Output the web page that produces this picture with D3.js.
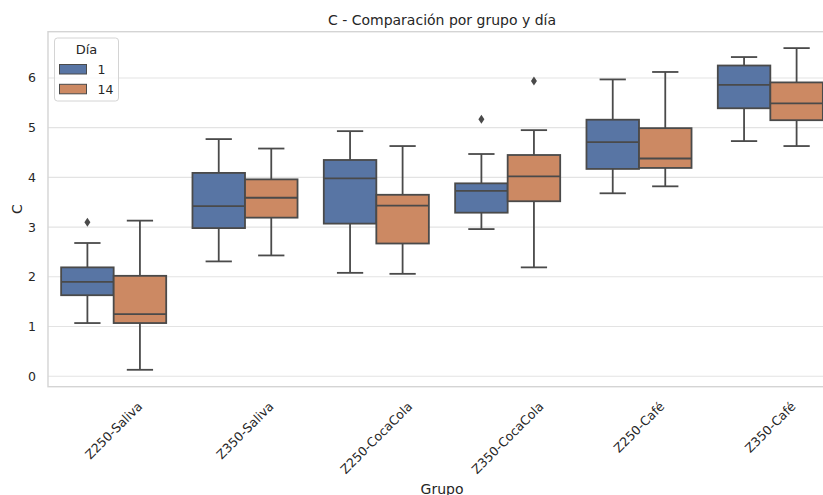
<!DOCTYPE html>
<html lang="es">

<head>
    <meta charset="UTF-8">
    <script src="https://cdnjs.cloudflare.com/ajax/libs/d3/7.9.0/d3.min.js"></script>
    <title>C - Comparación por grupo y día</title>
    <style>
        body {
            margin: 0;
            background-color: white;
            overflow: hidden;
        }

        svg {
            display: block;
            font-family: "DejaVu Sans", sans-serif;
        }
    </style>
</head>

<body>
    <div id="chart"></div>
    <script>
        // data
        const groups = ["Z250-Saliva", "Z350-Saliva", "Z250-CocaCola", "Z350-CocaCola", "Z250-Café", "Z350-Café"];
        const days = ["1", "14"];

        const day1Low = [1.07, 2.31, 2.08, 2.96, 3.68, 4.73];
        const day1Q1 = [1.63, 2.98, 3.07, 3.29, 4.17, 5.39];
        const day1Median = [1.90, 3.42, 3.98, 3.73, 4.71, 5.86];
        const day1Q3 = [2.19, 4.09, 4.35, 3.88, 5.16, 6.25];
        const day1High = [2.68, 4.77, 4.93, 4.47, 5.97, 6.42];
        const day1Outliers = [[0, 3.10], [3, 5.17]];

        const day14Low = [0.13, 2.43, 2.06, 2.19, 3.82, 4.63];
        const day14Q1 = [1.07, 3.19, 2.67, 3.52, 4.19, 5.15];
        const day14Median = [1.25, 3.59, 3.43, 4.02, 4.38, 5.49];
        const day14Q3 = [2.02, 3.96, 3.65, 4.45, 4.99, 5.91];
        const day14High = [3.13, 4.58, 4.63, 4.95, 6.12, 6.60];
        const day14Outliers = [[3, 5.94]];

        const yTicks = [0, 1, 2, 3, 4, 5, 6];

        const width = 823;
        const height = 495;
        const margin = { top: 31.7, left: 48, bottom: 386.7, right: 836 };

        const colors = { "1": "#5875a4", "14": "#cc8963" };
        const lineColor = "#4a4a4a";

        const boxes = [];
        groups.forEach((g, i) => {
            boxes.push({ group: g, day: "1", low: day1Low[i], q1: day1Q1[i], med: day1Median[i], q3: day1Q3[i], high: day1High[i] });
            boxes.push({ group: g, day: "14", low: day14Low[i], q1: day14Q1[i], med: day14Median[i], q3: day14Q3[i], high: day14High[i] });
        });
        const outliers = day1Outliers.map(d => ({ group: groups[d[0]], day: "1", v: d[1] }))
            .concat(day14Outliers.map(d => ({ group: groups[d[0]], day: "14", v: d[1] })));

        const svg = d3.select("#chart").append("svg")
            .attr("width", width)
            .attr("height", height);

        const x = d3.scaleBand()
            .domain(groups)
            .range([margin.left, margin.right])
            .paddingInner(0.2)
            .paddingOuter(0.1);

        const xDay = d3.scaleBand()
            .domain(days)
            .range([0, x.bandwidth()]);

        const y = d3.scaleLinear()
            .domain([-0.21, 6.93])
            .range([margin.bottom, margin.top]);

        // grid
        svg.append("g")
            .selectAll("line")
            .data(yTicks)
            .enter()
            .append("line")
            .attr("x1", margin.left)
            .attr("x2", margin.right)
            .attr("y1", d => y(d))
            .attr("y2", d => y(d))
            .attr("stroke", "#e3e3e3")
            .attr("stroke-width", 1.1);

        // frame
        svg.append("rect")
            .attr("x", margin.left)
            .attr("y", margin.top)
            .attr("width", margin.right - margin.left)
            .attr("height", margin.bottom - margin.top)
            .attr("fill", "none")
            .attr("stroke", "#d4d4d4")
            .attr("stroke-width", 1.4);

        // y axis
        const yAxis = svg.append("g")
            .attr("transform", `translate(${margin.left}, 0)`)
            .call(d3.axisLeft(y).tickValues(yTicks).tickSize(0).tickPadding(12));
        yAxis.select(".domain").remove();
        yAxis.selectAll("text")
            .attr("font-size", 12.5)
            .attr("font-family", "DejaVu Sans")
            .attr("fill", "#262626");

        // x axis with rotated labels
        const xAxis = svg.append("g")
            .attr("transform", `translate(0, ${margin.bottom})`)
            .call(d3.axisBottom(x).tickSize(0));
        xAxis.select(".domain").remove();
        xAxis.selectAll("text")
            .attr("font-size", 12.5)
            .attr("font-family", "DejaVu Sans")
            .attr("fill", "#262626")
            .attr("text-anchor", "middle")
            .attr("y", 0)
            .attr("dy", "0.35em")
            .attr("transform", function () {
                const len = this.getComputedTextLength();
                const cy = 13 + (len + 12.5) * Math.SQRT1_2 / 2;
                return `translate(0, ${cy}) rotate(-45)`;
            });

        // boxes
        const boxG = svg.append("g")
            .selectAll("g")
            .data(boxes)
            .enter()
            .append("g")
            .attr("transform", d => `translate(${x(d.group) + xDay(d.day)}, 0)`);

        const bw = xDay.bandwidth();

        boxG.append("line")
            .attr("x1", bw / 2).attr("x2", bw / 2)
            .attr("y1", d => y(d.low)).attr("y2", d => y(d.q1))
            .attr("stroke", lineColor).attr("stroke-width", 1.8);
        boxG.append("line")
            .attr("x1", bw / 2).attr("x2", bw / 2)
            .attr("y1", d => y(d.q3)).attr("y2", d => y(d.high))
            .attr("stroke", lineColor).attr("stroke-width", 1.8);
        boxG.append("line")
            .attr("x1", bw / 4).attr("x2", bw * 3 / 4)
            .attr("y1", d => y(d.low)).attr("y2", d => y(d.low))
            .attr("stroke", lineColor).attr("stroke-width", 1.8);
        boxG.append("line")
            .attr("x1", bw / 4).attr("x2", bw * 3 / 4)
            .attr("y1", d => y(d.high)).attr("y2", d => y(d.high))
            .attr("stroke", lineColor).attr("stroke-width", 1.8);
        boxG.append("rect")
            .attr("x", 0)
            .attr("width", bw)
            .attr("y", d => y(d.q3))
            .attr("height", d => y(d.q1) - y(d.q3))
            .attr("fill", d => colors[d.day])
            .attr("stroke", lineColor)
            .attr("stroke-width", 1.8);
        boxG.append("line")
            .attr("x1", 0).attr("x2", bw)
            .attr("y1", d => y(d.med)).attr("y2", d => y(d.med))
            .attr("stroke", lineColor).attr("stroke-width", 1.8);

        // outliers (thin diamonds)
        svg.append("g")
            .selectAll("path")
            .data(outliers)
            .enter()
            .append("path")
            .attr("transform", d => `translate(${x(d.group) + xDay(d.day) + bw / 2}, ${y(d.v)})`)
            .attr("d", "M0,-4.5L3,0L0,4.5L-3,0Z")
            .attr("fill", lineColor);

        // title and axis labels
        svg.append("text")
            .attr("x", (margin.left + margin.right) / 2)
            .attr("y", 24.5)
            .attr("text-anchor", "middle")
            .attr("font-size", 14)
            .attr("fill", "#262626")
            .text("C - Comparación por grupo y día");

        svg.append("text")
            .attr("transform", `translate(22, ${(margin.top + margin.bottom) / 2}) rotate(-90)`)
            .attr("text-anchor", "middle")
            .attr("font-size", 14)
            .attr("fill", "#262626")
            .text("C");

        svg.append("text")
            .attr("x", (margin.left + margin.right) / 2)
            .attr("y", 493.5)
            .attr("text-anchor", "middle")
            .attr("font-size", 14)
            .attr("fill", "#262626")
            .text("Grupo");

        // legend
        const legend = svg.append("g").attr("transform", "translate(54.5, 38)");
        legend.append("rect")
            .attr("width", 64)
            .attr("height", 63)
            .attr("rx", 3)
            .attr("fill", "white")
            .attr("fill-opacity", 0.8)
            .attr("stroke", "#d4d4d4")
            .attr("stroke-width", 1);
        legend.append("text")
            .attr("x", 32)
            .attr("y", 16)
            .attr("text-anchor", "middle")
            .attr("font-size", 13)
            .attr("fill", "#262626")
            .text("Día");
        const items = legend.selectAll("g.item")
            .data(days)
            .enter()
            .append("g")
            .attr("class", "item")
            .attr("transform", (d, i) => `translate(5, ${26.5 + i * 19.8})`);
        items.append("rect")
            .attr("width", 27)
            .attr("height", 9.5)
            .attr("fill", d => colors[d])
            .attr("stroke", lineColor)
            .attr("stroke-width", 1);
        items.append("text")
            .attr("x", 38)
            .attr("y", 9.5)
            .attr("font-size", 12.5)
            .attr("fill", "#262626")
            .text(d => d);
    </script>
</body>

</html>
